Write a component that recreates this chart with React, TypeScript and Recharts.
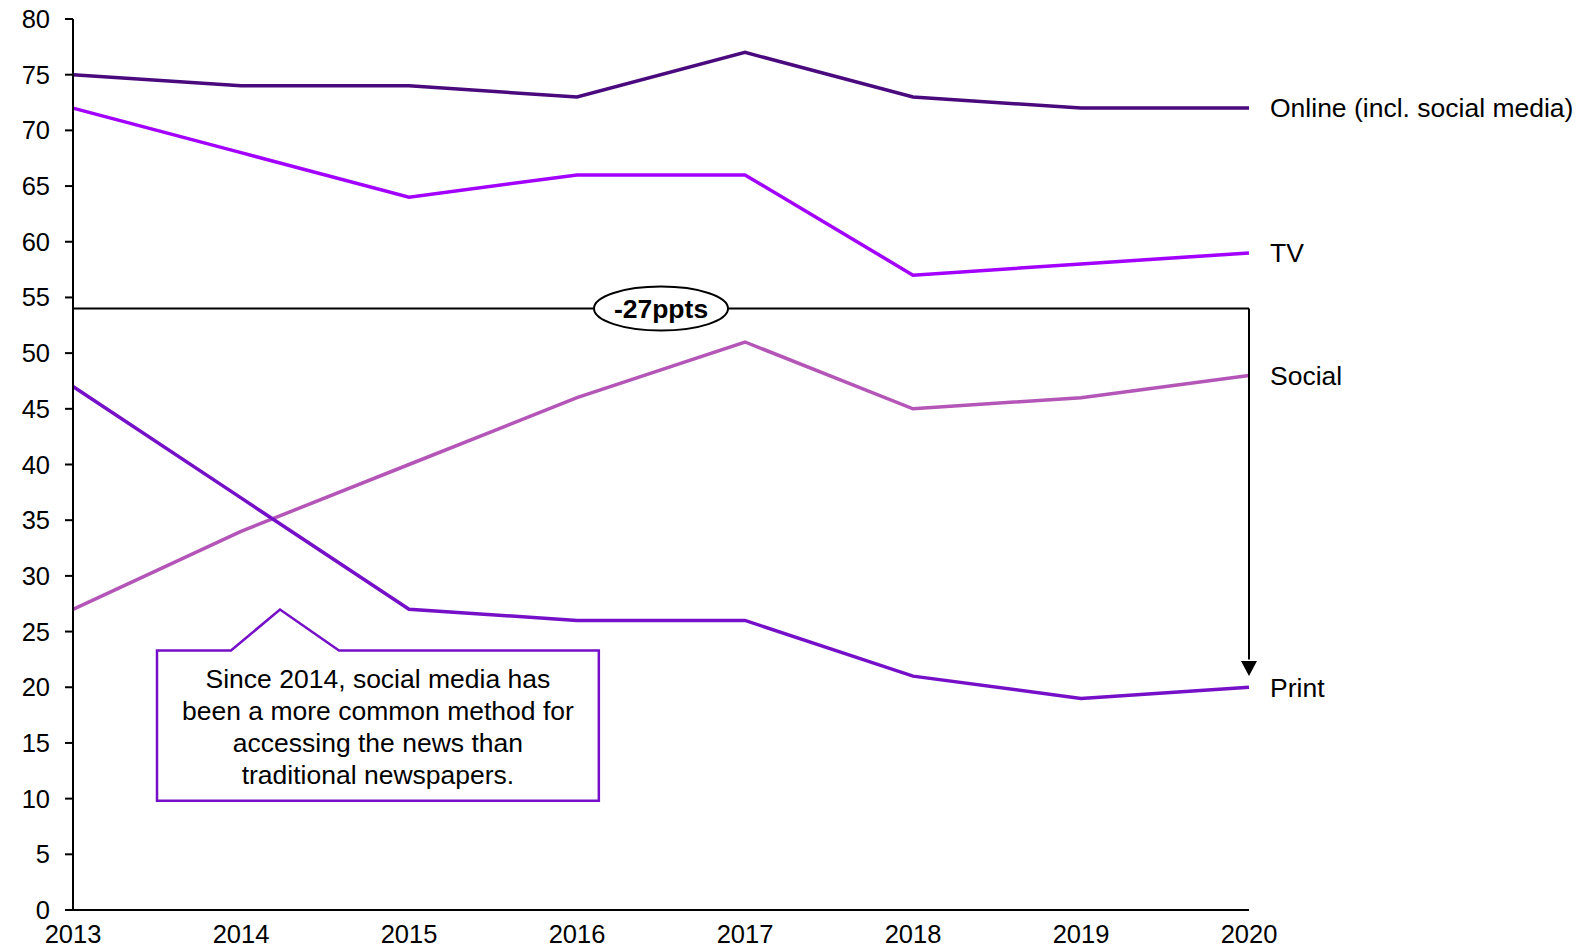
import React from 'react';
import { LineChart, Line, XAxis, YAxis, ReferenceLine, ReferenceDot, ReferenceArea } from 'recharts';

const years = [2013, 2014, 2015, 2016, 2017, 2018, 2019, 2020];
const online = [75, 74, 74, 73, 77, 73, 72, 72];
const tv = [72, 68, 64, 66, 66, 57, 58, 59];
const social = [27, 34, 40, 46, 51, 45, 46, 48];
const print = [47, 37, 27, 26, 26, 21, 19, 20];
const yTicks = [0, 5, 10, 15, 20, 25, 30, 35, 40, 45, 50, 55, 60, 65, 70, 75, 80];

const seriesInfo = [
  { key: 'online', name: 'Online (incl. social media)', values: online, color: '#4A0A7E' },
  { key: 'tv', name: 'TV', values: tv, color: '#A200FF' },
  { key: 'social', name: 'Social', values: social, color: '#B455B8' },
  { key: 'print', name: 'Print', values: print, color: '#7510C8' },
];

const calloutLines = [
  'Since 2014, social media has',
  'been a more common method for',
  'accessing the news than',
  'traditional newspapers.',
];

const data = years.map((y, i) => ({
  year: y,
  online: online[i],
  tv: tv[i],
  social: social[i],
  print: print[i],
}));

const FONT = '"Liberation Sans", Arial, sans-serif';
const lastYear = years[years.length - 1];

export default function App() {
  return (
    <div style={{ position: 'absolute', left: 0, top: 0, width: 1588, height: 948, background: '#fff' }}>
      <LineChart
        width={1588}
        height={948}
        data={data}
        margin={{ top: 19, right: 339, bottom: 0, left: 13 }}
        style={{ fontFamily: FONT }}
      >
        <XAxis
          dataKey="year"
          type="number"
          domain={[2013, 2020]}
          ticks={years}
          tickLine={false}
          axisLine={{ stroke: '#000', strokeWidth: 2 }}
          tick={{ fill: '#000', fontSize: 25.5, fontFamily: FONT }}
          tickSize={6}
          tickMargin={9}
          height={38}
          interval={0}
        />
        <YAxis
          type="number"
          domain={[0, 80]}
          ticks={yTicks}
          width={60}
          axisLine={{ stroke: '#000', strokeWidth: 2 }}
          tickLine={{ stroke: '#000', strokeWidth: 2 }}
          tickSize={8}
          tickMargin={15}
          tick={{ fill: '#000', fontSize: 25.5, fontFamily: FONT }}
          interval={0}
        />
        {seriesInfo.map((s) => (
          <Line
            key={s.key}
            dataKey={s.key}
            stroke={s.color}
            strokeWidth={3.5}
            dot={false}
            isAnimationActive={false}
          />
        ))}
        {seriesInfo.map((s) => (
          <ReferenceDot
            key={'lbl-' + s.key}
            x={lastYear}
            y={s.values[s.values.length - 1]}
            r={0}
            shape={(p: any) => (
              <text
                x={p.cx + 21}
                y={p.cy}
                dy="0.35em"
                fontSize={26.5}
                fontFamily={FONT}
                fill="#000"
              >
                {s.name}
              </text>
            )}
          />
        ))}
        <ReferenceLine
          segment={[{ x: 2013, y: 54 }, { x: 2020, y: 54 }]}
          stroke="#000"
          strokeWidth={2}
        />
        <ReferenceLine
          segment={[{ x: 2013, y: 54 }, { x: 2013, y: 47.3 }]}
          stroke="#000"
          strokeWidth={2}
        />
        <ReferenceLine
          segment={[{ x: 2020, y: 54 }, { x: 2020, y: 22.5 }]}
          stroke="#000"
          strokeWidth={2}
        />
        <ReferenceDot
          x={2020}
          y={21}
          r={0}
          shape={(p: any) => (
            <path
              d={`M${p.cx - 8},${p.cy - 15} L${p.cx + 8},${p.cy - 15} L${p.cx},${p.cy} Z`}
              fill="#000"
            />
          )}
        />
        <ReferenceDot
          x={2016.5}
          y={54}
          r={0}
          shape={(p: any) => (
            <g>
              <ellipse cx={p.cx} cy={p.cy} rx={67} ry={22} fill="#fff" stroke="#000" strokeWidth={2} />
              <text
                x={p.cx}
                y={p.cy}
                dy="0.35em"
                textAnchor="middle"
                fontSize={26.5}
                fontWeight="bold"
                fontFamily={FONT}
                fill="#000"
              >
                -27ppts
              </text>
            </g>
          )}
        />
        <ReferenceArea
          x1={2013.5}
          x2={2016.13}
          y1={9.8}
          y2={23.3}
          shape={(p: any) => {
            const { x, y, width, height } = p;
            const tipX = x + 123;
            const d = `M${x},${y} L${x + 74},${y} L${tipX},${y - 41} L${x + 182},${y} L${x + width},${y} L${x + width},${y + height} L${x},${y + height} Z`;
            const cx = x + width / 2;
            return (
              <g>
                <path d={d} fill="#fff" stroke="#7510C8" strokeWidth={2.5} />
                {calloutLines.map((t, i) => (
                  <text
                    key={i}
                    x={cx}
                    y={y + 28 + i * 32}
                    dy="0.35em"
                    textAnchor="middle"
                    fontSize={26.5}
                    fontFamily={FONT}
                    fill="#000"
                  >
                    {t}
                  </text>
                ))}
              </g>
            );
          }}
        />
      </LineChart>
    </div>
  );
}
